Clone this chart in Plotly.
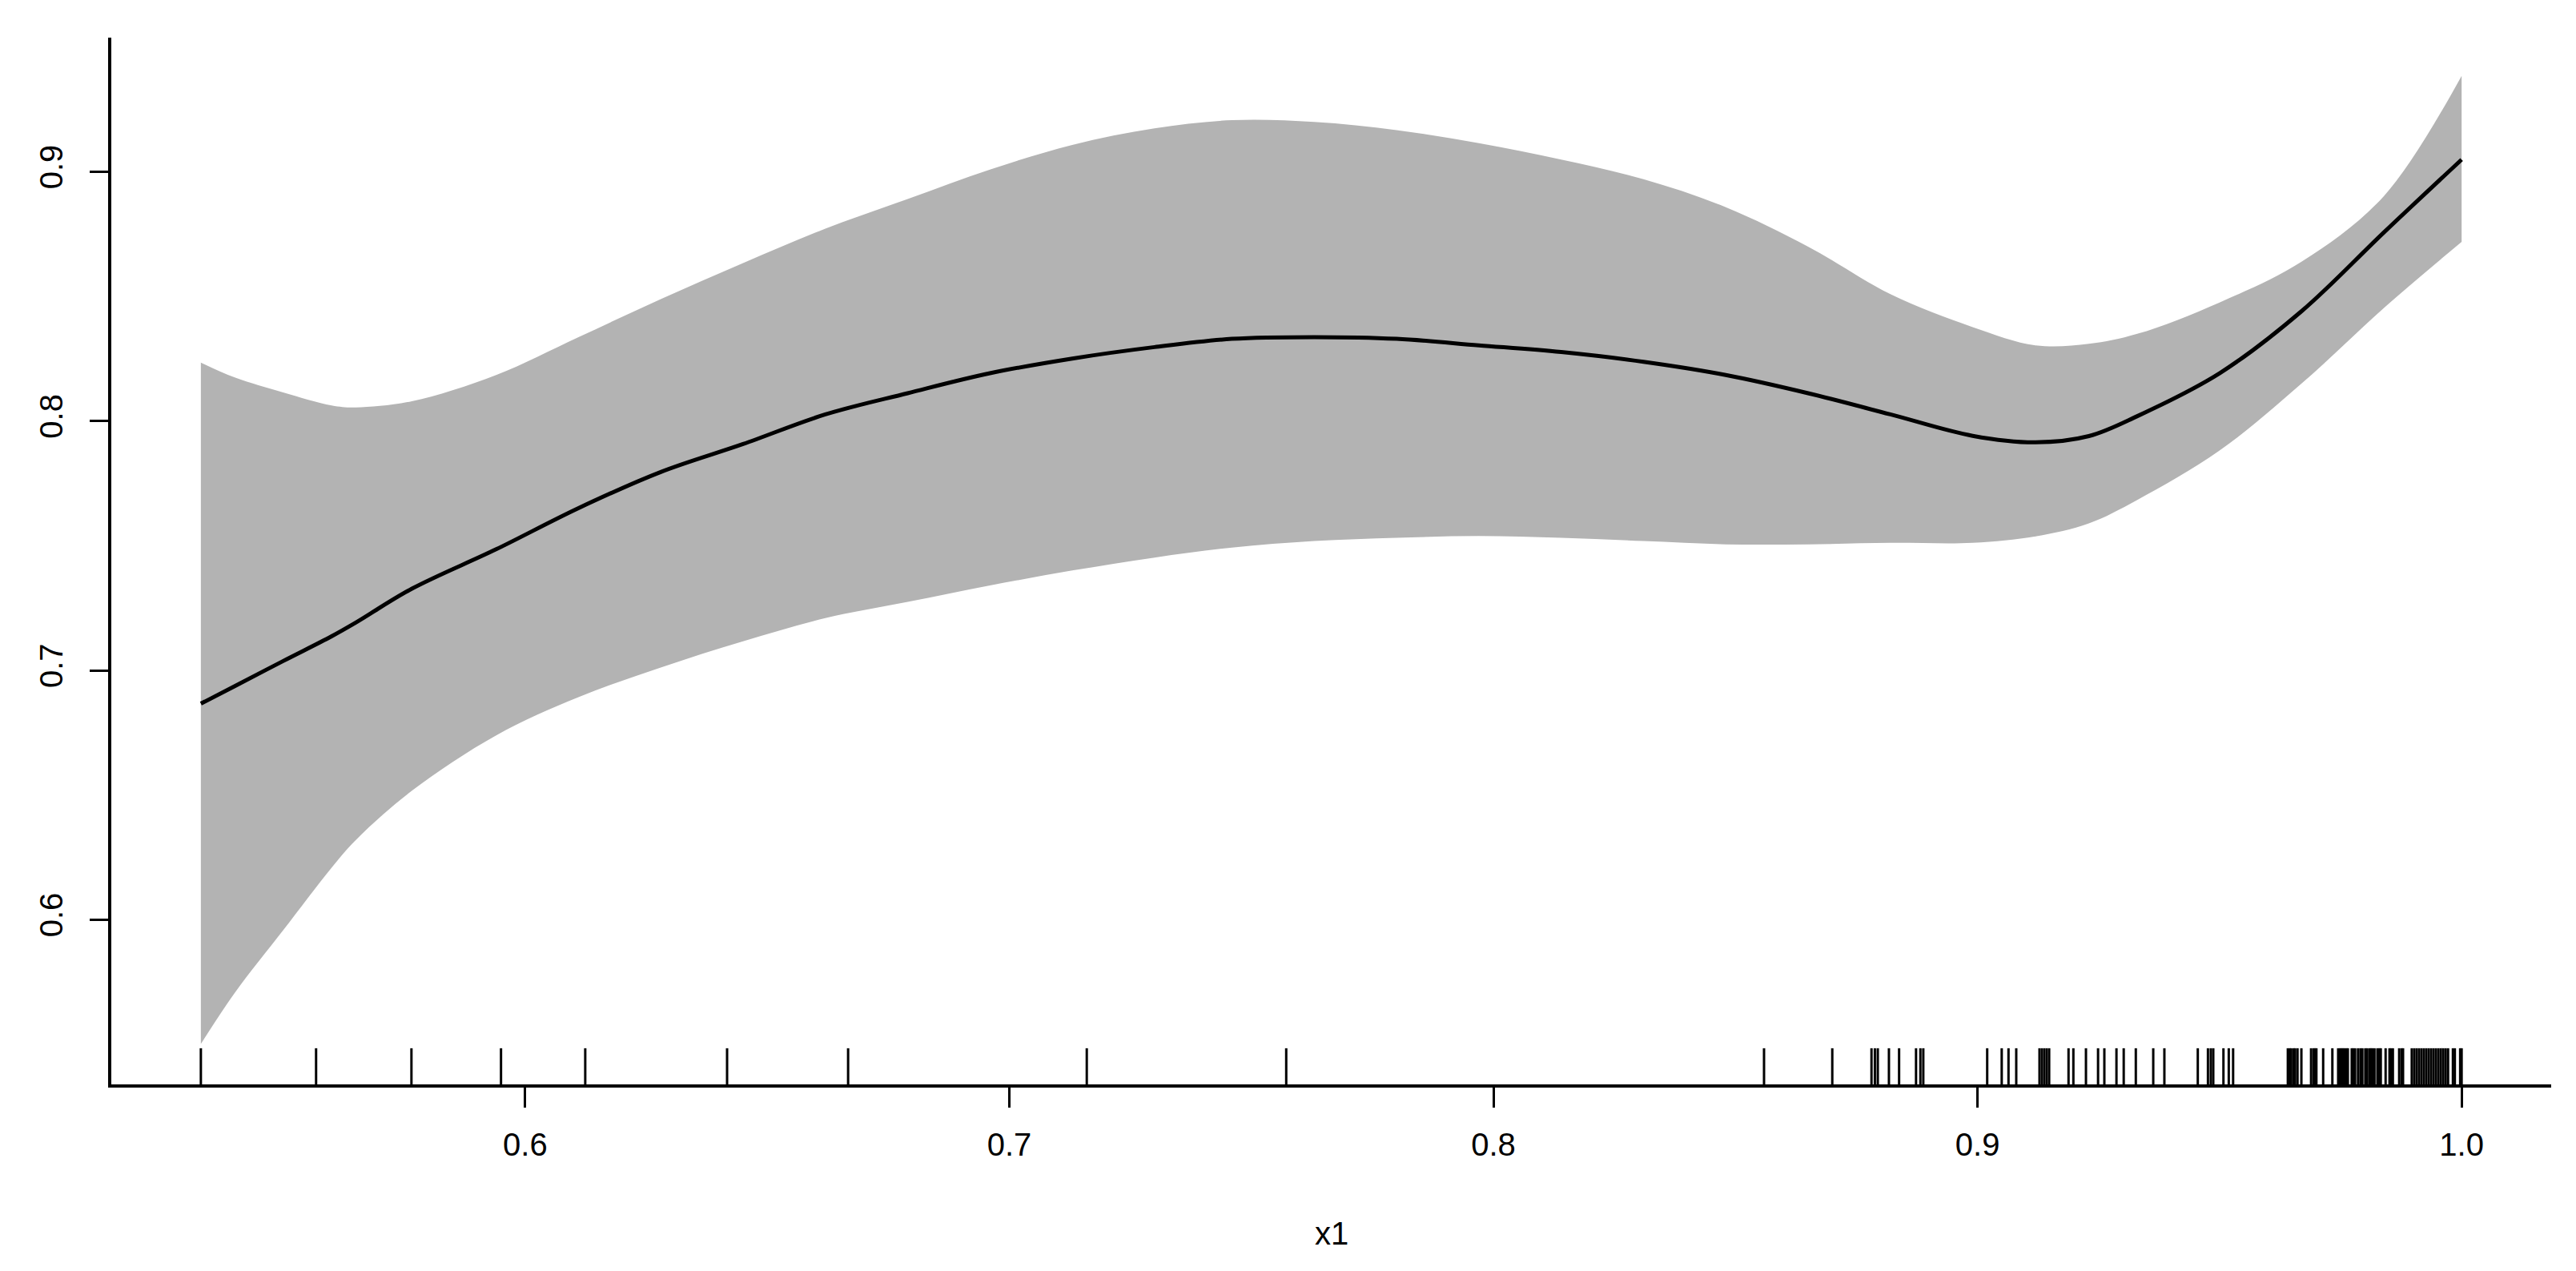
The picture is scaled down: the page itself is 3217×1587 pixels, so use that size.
import plotly.graph_objects as go

# smooth term estimate and its confidence band
x_grid = [0.533, 0.540, 0.550, 0.560, 0.565, 0.5766, 0.594, 0.611, 0.628, 0.645,
          0.662, 0.679, 0.696, 0.713, 0.730, 0.746, 0.763, 0.780, 0.797, 0.814,
          0.831, 0.848, 0.865, 0.882, 0.899, 0.912, 0.923, 0.933, 0.950, 0.967,
          0.984, 1.0]
fit = [0.6867, 0.6937, 0.7038, 0.7137, 0.7192, 0.7328, 0.7486, 0.7651, 0.7796, 0.7908,
       0.8027, 0.8112, 0.8192, 0.8251, 0.8297, 0.8330, 0.8337, 0.8330, 0.8304, 0.8277,
       0.8238, 0.8185, 0.8112, 0.8027, 0.7941, 0.7915, 0.7940, 0.8020, 0.8192, 0.8442,
       0.8758, 0.9049]
upper = [0.8235, 0.8175, 0.8115, 0.8063, 0.8055, 0.8080, 0.8185, 0.8337, 0.8489, 0.8634,
         0.8772, 0.8891, 0.9009, 0.9108, 0.9174, 0.9207, 0.9200, 0.9167, 0.9115, 0.9049,
         0.8970, 0.8858, 0.8700, 0.8509, 0.8377, 0.8304, 0.8310, 0.8350, 0.8476, 0.8640,
         0.8904, 0.9385]
lower = [0.5502, 0.5707, 0.5958, 0.6209, 0.6320, 0.6518, 0.6740, 0.6893, 0.7012, 0.7117,
         0.7210, 0.7275, 0.7341, 0.7401, 0.7453, 0.7493, 0.7519, 0.7532, 0.7539, 0.7532,
         0.7519, 0.7506, 0.7506, 0.7512, 0.7512, 0.7538, 0.7590, 0.7684, 0.7882, 0.8152,
         0.8455, 0.8719]

# rug of observed x1 values
rug_x = [0.5330, 0.5568, 0.5765, 0.5950, 0.6124, 0.6417, 0.6667, 0.7160, 0.7572,
         0.8559, 0.8700, 0.8781, 0.8788, 0.8794, 0.8817, 0.8838, 0.8873, 0.8882, 0.8888,
         0.9020, 0.9050, 0.9064, 0.9080, 0.9128, 0.9133, 0.9138, 0.9143, 0.9148,
         0.9188, 0.9198, 0.9224, 0.9249, 0.9262, 0.9287, 0.9302, 0.9327, 0.9363, 0.9386,
         0.9455, 0.9476, 0.9482, 0.9487, 0.9508, 0.9519, 0.9528,
         0.9641, 0.9645, 0.9648, 0.9653, 0.9656, 0.9661, 0.9669, 0.9689, 0.9694, 0.9697,
         0.9700, 0.9714, 0.9733, 0.9745, 0.9749, 0.9752, 0.9755, 0.9758, 0.9762, 0.9765,
         0.9773, 0.9776, 0.9780, 0.9786, 0.9791, 0.9795, 0.9801, 0.9805, 0.9810, 0.9813,
         0.9816, 0.9820, 0.9826, 0.9830, 0.9833, 0.9843, 0.9851, 0.9854, 0.9858, 0.9871,
         0.9876, 0.9879, 0.9897, 0.9902, 0.9907, 0.9912, 0.9917, 0.9922, 0.9927, 0.9932,
         0.9937, 0.9942, 0.9947, 0.9952, 0.9957, 0.9962, 0.9967, 0.9972, 0.9982, 0.9986,
         0.9997, 1.0]

x_ticks = [0.6, 0.7, 0.8, 0.9, 1.0]
y_ticks = [0.6, 0.7, 0.8, 0.9]
x_range = [0.5145, 1.0185]
y_range = [0.5340, 0.9538]
rug_len = 0.0145

FONT = "Liberation Sans, Arial, sans-serif"

fig = go.Figure()

fig.add_trace(go.Scatter(x=x_grid, y=lower, mode="lines", line=dict(width=0, shape="spline"),
                         hoverinfo="skip", showlegend=False))
fig.add_trace(go.Scatter(x=x_grid, y=upper, mode="lines", line=dict(width=0, shape="spline"),
                         fill="tonexty", fillcolor="#B3B3B3", showlegend=False))
fig.add_trace(go.Scatter(x=x_grid, y=fit, mode="lines",
                         line=dict(color="black", width=5, shape="spline"), showlegend=False))

rx, ry = [], []
for v in rug_x:
    rx += [v, v, None]
    ry += [y_range[0], y_range[0] + rug_len, None]
fig.add_trace(go.Scatter(x=rx, y=ry, mode="lines", line=dict(color="black", width=3),
                         hoverinfo="skip", showlegend=False))

fig.update_layout(
    width=3217, height=1587,
    margin=dict(l=131, r=39, t=39, b=241),
    paper_bgcolor="white", plot_bgcolor="white",
    font=dict(family=FONT, size=40, color="black"),
    xaxis=dict(range=x_range, tickvals=x_ticks, ticktext=["0.6", "0.7", "0.8", "0.9", "1.0"],
               showline=True, linecolor="black", linewidth=4, ticks="outside",
               ticklen=25, tickwidth=3, tickcolor="black", showgrid=False, zeroline=False,
               ticklabelstandoff=12),
    yaxis=dict(range=y_range, tickvals=y_ticks, ticktext=["0.6", "0.7", "0.8", "0.9"],
               showline=True, linecolor="black", linewidth=4, ticks="outside",
               ticklen=23, tickwidth=3, tickcolor="black", showgrid=False, zeroline=False,
               tickangle=-90, ticklabelstandoff=18),
    annotations=[dict(text="x1", x=0.5, y=-0.142, xref="paper", yref="paper",
                      showarrow=False, xanchor="center", yanchor="middle",
                      font=dict(family=FONT, size=40))],
)

fig.write_html("out.html")
